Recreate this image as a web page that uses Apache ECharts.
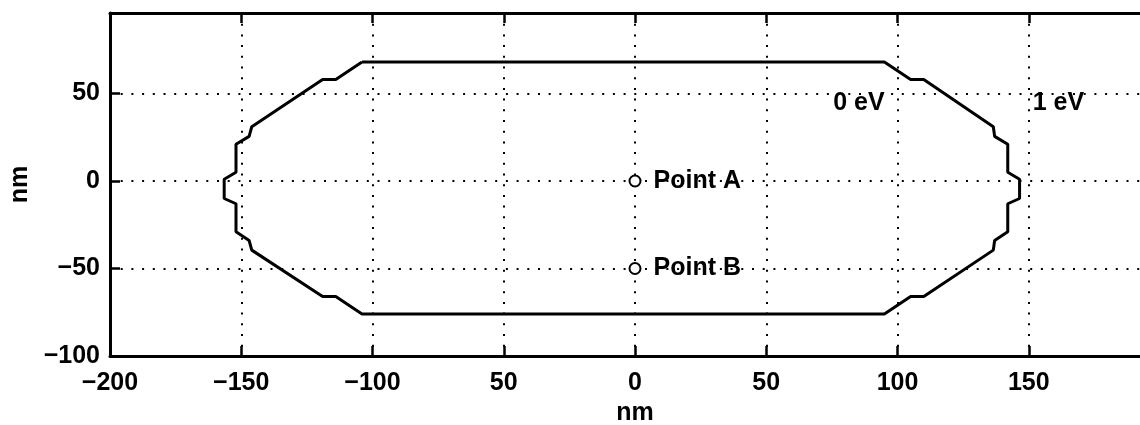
<!DOCTYPE html>
<html>
<head>
<meta charset="utf-8">
<script src="https://cdn.jsdelivr.net/npm/echarts@6/dist/echarts.min.js"></script>
<style>
html,body{margin:0;padding:0;background:#fff;overflow:hidden;}
#chart{width:1140px;height:425px;}
</style>
</head>
<body>
<div id="chart"></div>
<script>
// Outline of the 0 eV contour (nm)
var outlineX = [-104, -114, -119, -146, -147, -152, -152, -156.5, -156.5, -152, -152, -147, -146, -119, -114, -104,
                95, 105, 110, 136.5, 137, 142, 142, 146.5, 146.5, 142, 142, 137, 136.5, 110, 105, 95, -104];
var outlineY = [68, 58, 58, 31, 25.5, 21, 5, 1, -10, -13, -29, -34, -39.5, -66, -66, -76,
                -76, -66, -66, -39.5, -34, -29, -13, -10, 1, 5, 21, 25.5, 31, 58, 58, 68, 68];
// Marked points
var pointNames = ['Point A', 'Point B'];
var pointX = [0, 0];
var pointY = [0, -50];
// Contour labels
var contourLabels = ['0 eV', '1 eV'];
var contourLabelX = [75.5, 151.5];
var contourLabelY = [44.5, 44.5];
// Axis ticks
var xTicks = [-200, -150, -100, -50, 0, 50, 100, 150];
var xTickLabels = ['\u2212200', '\u2212150', '\u2212100', '50', '0', '50', '100', '150'];
var yTicks = [-100, -50, 0, 50];
var yTickLabels = ['\u2212100', '\u221250', '0', '50'];
var xAxisName = 'nm';
var yAxisName = 'nm';

var FONT = '"Liberation Sans", Arial, Helvetica, sans-serif';
var FS = 25;
var FW = 'bold';

var chart = echarts.init(document.getElementById('chart'), null, {renderer: 'canvas'});

function lab(ticks, labels) {
  return function (v) {
    for (var i = 0; i < ticks.length; i++) {
      if (Math.abs(ticks[i] - v) < 1e-6) return labels[i];
    }
    return '';
  };
}

var outlineData = outlineX.map(function (x, i) { return [x, outlineY[i]]; });
var pointData = pointX.map(function (x, i) { return {value: [x, pointY[i]], name: pointNames[i]}; });
var contourData = contourLabelX.map(function (x, i) { return {value: [x, contourLabelY[i]], name: contourLabels[i]}; });

var gridLine = {show: true, lineStyle: {color: '#000', width: 2, type: [2, 8.7]}};
var txt = {color: '#000', fontSize: FS, fontFamily: FONT, fontWeight: FW};

chart.setOption({
  backgroundColor: '#fff',
  animation: false,
  grid: {left: 110, right: -20, top: 13, bottom: 69, containLabel: false, outerBoundsMode: 'none'},
  xAxis: [{
    type: 'value', min: -200, max: 200, interval: 50, position: 'bottom',
    name: xAxisName, nameLocation: 'middle', nameGap: 45,
    nameTextStyle: txt,
    axisLine: {show: true, onZero: false, lineStyle: {color: '#000', width: 3}},
    axisTick: {show: true, inside: true, length: 10, lineStyle: {color: '#000', width: 2.5}},
    axisLabel: Object.assign({margin: 15, formatter: lab(xTicks, xTickLabels)}, txt),
    splitLine: gridLine
  }, {
    type: 'value', min: -200, max: 200, interval: 50, position: 'top',
    axisLine: {show: true, onZero: false, lineStyle: {color: '#000', width: 3}},
    axisTick: {show: true, inside: true, length: 10, lineStyle: {color: '#000', width: 2.5}},
    axisLabel: {show: false},
    splitLine: {show: false}
  }],
  yAxis: [{
    type: 'value', min: -100, max: 96, interval: 50, position: 'left',
    name: yAxisName, nameLocation: 'middle', nameGap: 73,
    nameTextStyle: txt,
    axisLine: {show: true, onZero: false, lineStyle: {color: '#000', width: 3}},
    axisTick: {show: true, inside: true, length: 10, lineStyle: {color: '#000', width: 2.5}},
    axisLabel: Object.assign({margin: 10, showMaxLabel: false, formatter: lab(yTicks, yTickLabels)}, txt),
    splitLine: gridLine
  }],
  series: [{
    type: 'line', data: outlineData, symbol: 'none', silent: true,
    lineStyle: {color: '#000', width: 3}, clip: false, z: 3
  }, {
    type: 'scatter', data: pointData, symbol: 'emptyCircle', symbolSize: 11,
    itemStyle: {color: '#000', borderColor: '#000', borderWidth: 2, opacity: 1},
    label: Object.assign({show: true, position: 'right', distance: 12, formatter: '{b}'}, txt),
    z: 4
  }, {
    type: 'scatter', data: contourData, symbolSize: 0,
    itemStyle: {opacity: 1},
    label: Object.assign({show: true, position: 'right', distance: 0, formatter: '{b}'}, txt),
    z: 4
  }]
});
</script>
</body>
</html>
